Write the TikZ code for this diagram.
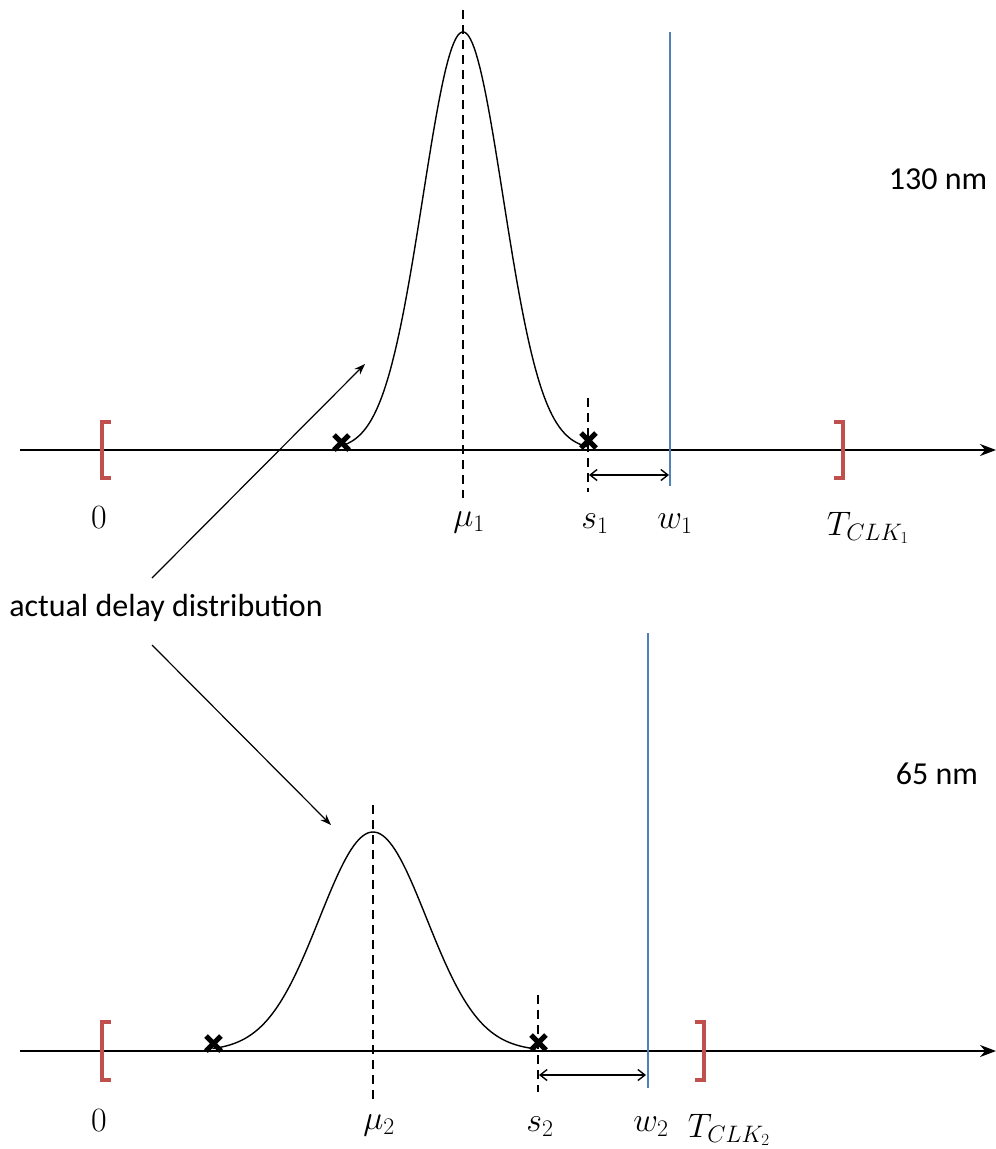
\RequirePackage{fix-cm}
\documentclass[tikz,border=0pt]{standalone}
\usepackage{fontspec}
\newfontfamily\calib{Carlito}
\usetikzlibrary{arrows.meta}
\definecolor{bred}{RGB}{192,80,77}
\definecolor{lblue}{RGB}{79,129,189}
\begin{document}
\begin{tikzpicture}[x=1pt,y=-1pt,
  axis/.style={line width=1.8pt,-{Stealth[length=16pt,width=12pt]}},
  brk/.style={bred,line width=4pt},
  wline/.style={lblue,line width=2.4pt},
  meanline/.style={line width=1.8pt,dash pattern=on 9pt off 6pt},
  curve/.style={line width=1.4pt},
  xmark/.style={line width=5pt},
  gap/.style={line width=1.4pt,{Straight Barb[length=7pt,width=11pt]}-{Straight Barb[length=7pt,width=11pt]}},
  note/.style={line width=1.2pt,-{Stealth[length=11pt,width=8pt]}},
  lab/.style={font=\fontsize{34}{38}\selectfont,inner sep=0pt},
  txt/.style={font=\calib\fontsize{32}{36}\selectfont,inner sep=0pt}]
\useasboundingbox (0,0) rectangle (996,1149);

% ---------- top panel ----------
\coordinate (a1s) at (20,450);
\coordinate (a1e) at (996,450);
\draw[axis] (a1s) -- (a1e);
\draw[brk] (111,422) -- (102,422) -- (102,478) -- (111,478);
\draw[brk] (834,422) -- (843,422) -- (843,478) -- (834,478);
\coordinate (m1t) at (463,10);
\coordinate (m1b) at (463,498);
\draw[meanline] (m1t) -- (m1b);
\draw[curve] plot[domain=-3.0:3.1,samples=120] ({463+40*\x},{450-418*exp(-(\x)^2/2)});
\coordinate (s1t) at (588,398);
\coordinate (s1b) at (588,492);
\draw[meanline] (s1t) -- (s1b);
\coordinate (w1t) at (670,32);
\coordinate (w1b) at (670,486);
\draw[wline] (w1t) -- (w1b);
\coordinate (g1a) at (589,475);
\coordinate (g1b) at (669,475);
\draw[gap] (g1a) -- (g1b);
\draw[xmark] (334,435) -- (349,450) (334,450) -- (349,435);
\draw[xmark] (581,433) -- (596,448) (581,448) -- (596,433);
\node[lab] (z1) at (99,518) {$0$};
\node[lab] (mu1) at (469,522) {$\mu_1$};
\node[lab] (sl1) at (595,524) {$s_1$};
\node[lab] (wl1) at (675,524) {$w_1$};
\node[lab] (t1) at (868,528) {$T_{CLK_1}$};
\node[txt] (n130) at (938,179) {130 nm};

% ---------- label ----------
\node[txt] (add) at (166,608) {actual delay distribution};
\coordinate (p1) at (365,364);
\coordinate (p2) at (331,825);
\draw[note] (152,578) -- (p1);
\draw[note] (152,645) -- (p2);

% ---------- bottom panel ----------
\coordinate (a2s) at (20,1051);
\coordinate (a2e) at (996,1051);
\draw[axis] (a2s) -- (a2e);
\draw[brk] (111,1022) -- (102,1022) -- (102,1080) -- (111,1080);
\draw[brk] (695,1022) -- (704,1022) -- (704,1080) -- (695,1080);
\coordinate (m2t) at (373,805);
\coordinate (m2b) at (373,1100);
\draw[meanline] (m2t) -- (m2b);
\draw[curve] plot[domain=-3.0:3.05,samples=120] ({373+53.5*\x},{1051-219*exp(-(\x)^2/2)});
\coordinate (s2t) at (538,995);
\coordinate (s2b) at (538,1092);
\draw[meanline] (s2t) -- (s2b);
\coordinate (w2t) at (648,633);
\coordinate (w2b) at (648,1088);
\draw[wline] (w2t) -- (w2b);
\coordinate (g2a) at (539,1075);
\coordinate (g2b) at (646,1075);
\draw[gap] (g2a) -- (g2b);
\draw[xmark] (206,1036) -- (221,1051) (206,1051) -- (221,1036);
\draw[xmark] (531,1035) -- (546,1050) (531,1050) -- (546,1035);
\node[lab] (z2) at (99,1121) {$0$};
\node[lab] (mu2) at (379,1125) {$\mu_2$};
\node[lab] (sl2) at (540,1127) {$s_2$};
\node[lab] (wl2) at (651,1127) {$w_2$};
\node[lab] (t2) at (729,1130) {$T_{CLK_2}$};
\node[txt] (n65) at (937,774) {65 nm};
\end{tikzpicture}
\end{document}
